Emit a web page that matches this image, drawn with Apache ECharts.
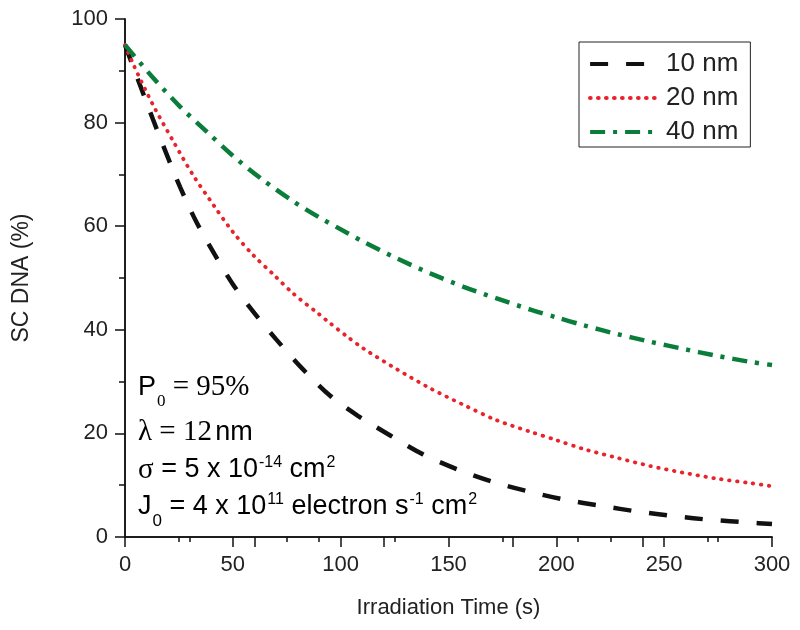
<!DOCTYPE html>
<html>
<head>
<meta charset="utf-8">
<script src="https://cdn.jsdelivr.net/npm/echarts@6/dist/echarts.min.js"></script>
<style>
html,body{margin:0;padding:0;background:#fff;}
#chart{width:800px;height:630px;}
</style>
</head>
<body>
<div id="chart"></div>
<script>
// Data
const seriesNames = ['10 nm', '20 nm', '40 nm'];

const time10 = [0, 7, 13, 19, 25.5, 33, 41.5, 50, 60, 70, 82, 95, 108, 123, 138, 154.5, 171, 188, 204, 221, 238, 255, 272, 289, 300];
const sc10   = [95, 87.2, 80.6, 74.2, 67.6, 60.9, 54.6, 48.8, 43.2, 38.2, 32.6, 27.3, 23.4, 19.6, 16.0, 13.0, 10.6, 8.7, 7.2, 6.0, 4.9, 4.0, 3.3, 2.8, 2.5];

const time20 = [0, 4, 13, 22.5, 31.5, 41, 50, 59.5, 69, 78, 90, 95, 103, 110.5, 126, 141.5, 157, 172, 188, 200, 212.5, 228, 243.5, 259, 274, 290, 300];
const sc20   = [95, 91.1, 83.4, 76.3, 69.9, 64.1, 58.9, 54.4, 50.6, 47.0, 43.0, 41.3, 38.7, 36.4, 32.4, 28.7, 25.5, 22.6, 20.3, 18.7, 17.0, 15.3, 13.7, 12.4, 11.3, 10.4, 9.8];

const time40 = [0, 12.5, 25.5, 38, 50, 64, 78, 90.5, 103.5, 110.5, 126, 141.5, 157, 172, 188, 200, 212.5, 228, 243.5, 259, 274, 290, 300];
const sc40   = [95, 88.9, 83.1, 78.2, 73.6, 68.9, 64.8, 61.6, 58.6, 57.0, 53.8, 50.9, 48.3, 46.1, 43.9, 42.4, 40.9, 39.2, 37.7, 36.3, 35.0, 33.8, 33.2];

const xTicks = [0, 50, 100, 150, 200, 250, 300];
const yTicks = [0, 20, 40, 60, 80, 100];

function pairs(t, v) { return t.map((x, i) => [x, v[i]]); }

const SANS = '"Liberation Sans", Arial, Helvetica, sans-serif';
const SERIF = '"Liberation Serif", "Times New Roman", serif';
const TXT = '#222';

const chart = echarts.init(document.getElementById('chart'), null, {renderer: 'canvas'});

const axisLineStyle = {color: '#111', width: 1.5};

const option = {
  backgroundColor: '#fff',
  animation: false,
  grid: {left: 125, right: 28, top: 19, bottom: 93, containLabel: false},
  legend: {
    orient: 'vertical',
    left: 579,
    top: 42,
    padding: [9, 12, 2, 9],
    borderColor: '#222',
    borderWidth: 1,
    itemWidth: 67,
    itemHeight: 22,
    itemGap: 8,
    itemStyle: {opacity: 0},
    lineStyle: {width: 4.2},
    textStyle: {fontFamily: SANS, fontSize: 26, color: TXT, padding: [0, 0, 0, 4]},
    data: seriesNames
  },
  xAxis: [{
    type: 'value', position: 'bottom', min: xTicks[0], max: xTicks[xTicks.length - 1], interval: 50,
    name: 'Irradiation Time (s)', nameLocation: 'middle', nameGap: 60,
    nameTextStyle: {fontFamily: SANS, fontSize: 22, color: TXT},
    axisLine: {show: true, lineStyle: axisLineStyle},
    axisTick: {show: true, inside: false, length: 10, lineStyle: axisLineStyle},
    minorTick: {show: true, splitNumber: 2, length: 5, lineStyle: axisLineStyle},
    axisLabel: {fontFamily: SANS, fontSize: 22, color: TXT, margin: 17},
    splitLine: {show: false}
  }, {
    type: 'value', position: 'top', min: 0, max: 300, interval: 60,
    axisLine: {show: true, lineStyle: axisLineStyle},
    axisTick: {show: true, inside: true, length: 10, lineStyle: axisLineStyle},
    minorTick: {show: true, splitNumber: 2, length: 5, lineStyle: axisLineStyle},
    axisLabel: {show: false},
    splitLine: {show: false}
  }],
  yAxis: [{
    type: 'value', position: 'left', min: yTicks[0], max: yTicks[yTicks.length - 1], interval: 20,
    name: 'SC DNA (%)', nameLocation: 'middle', nameGap: 92, nameRotate: 90,
    nameTextStyle: {fontFamily: SANS, fontSize: 23, color: TXT},
    axisLine: {show: true, lineStyle: axisLineStyle},
    axisTick: {show: true, inside: false, length: 10, lineStyle: axisLineStyle},
    minorTick: {show: true, splitNumber: 2, length: 6, lineStyle: axisLineStyle},
    axisLabel: {fontFamily: SANS, fontSize: 22, color: TXT, margin: 17},
    splitLine: {show: false}
  }, {
    type: 'value', position: 'right', min: 0, max: 100, interval: 20,
    axisLine: {show: true, lineStyle: axisLineStyle},
    axisTick: {show: true, inside: true, length: 10, lineStyle: axisLineStyle},
    minorTick: {show: true, splitNumber: 2, length: 5, lineStyle: axisLineStyle},
    axisLabel: {show: false},
    splitLine: {show: false}
  }],
  series: [{
    name: seriesNames[0], type: 'line', xAxisIndex: 0, yAxisIndex: 0,
    data: pairs(time10, sc10), smooth: 0.3, symbol: 'none',
    lineStyle: {color: '#111', width: 4.5, type: [18, 18], cap: 'butt'},
    itemStyle: {color: '#111'}
  }, {
    name: seriesNames[1], type: 'line', xAxisIndex: 0, yAxisIndex: 0,
    data: pairs(time20, sc20), smooth: 0.3, symbol: 'none',
    lineStyle: {color: '#e8232b', width: 3.8, type: [0.5, 7.5], cap: 'round'},
    itemStyle: {color: '#e8232b'}
  }, {
    name: seriesNames[2], type: 'line', xAxisIndex: 0, yAxisIndex: 0,
    data: pairs(time40, sc40), smooth: 0.3, symbol: 'none',
    lineStyle: {color: '#0a7d3b', width: 4.5, type: [15, 8, 4, 8], cap: 'butt'},
    itemStyle: {color: '#0a7d3b'}
  }],
  graphic: [{
    type: 'text', left: 138, top: 373,
    style: {
      text: '{s|P}{sub|0}{t| = 95%}',
      rich: {
        s: {fontFamily: SANS, fontSize: 27, color: TXT, lineHeight: 30},
        t: {fontFamily: SERIF, fontSize: 29, color: TXT, lineHeight: 30},
        sub: {fontFamily: SERIF, fontSize: 17, color: TXT, verticalAlign: 'bottom', lineHeight: 17, padding: [0, 0, -8, 1]}
      }
    }
  }, {
    type: 'text', left: 138, top: 418,
    style: {
      text: '{t|λ = 12} {s|nm}',
      rich: {
        s: {fontFamily: SANS, fontSize: 27, color: TXT, lineHeight: 30},
        t: {fontFamily: SERIF, fontSize: 29, color: TXT, lineHeight: 30}
      }
    }
  }, {
    type: 'text', left: 138, top: 455,
    style: {
      text: '{t|σ}{s| = 5 x 10}{sup|-14}{s| cm}{sup|2}',
      rich: {
        s: {fontFamily: SANS, fontSize: 27, color: TXT, lineHeight: 30},
        t: {fontFamily: SERIF, fontSize: 29, color: TXT, lineHeight: 30},
        sup: {fontFamily: SANS, fontSize: 16, color: TXT, verticalAlign: 'top', lineHeight: 16, padding: [0, 0, 0, 1]}
      }
    }
  }, {
    type: 'text', left: 138, top: 492,
    style: {
      text: '{s|J}{sub|0}{s| = 4 x 10}{sup|11}{s| electron s}{sup|-1}{s| cm}{sup|2}',
      rich: {
        s: {fontFamily: SANS, fontSize: 27, color: TXT, lineHeight: 30},
        sub: {fontFamily: SANS, fontSize: 17, color: TXT, verticalAlign: 'bottom', lineHeight: 17, padding: [0, 0, -8, 1]},
        sup: {fontFamily: SANS, fontSize: 16, color: TXT, verticalAlign: 'top', lineHeight: 16, padding: [0, 0, 0, 1]}
      }
    }
  }]
};

chart.setOption(option);
</script>
</body>
</html>
